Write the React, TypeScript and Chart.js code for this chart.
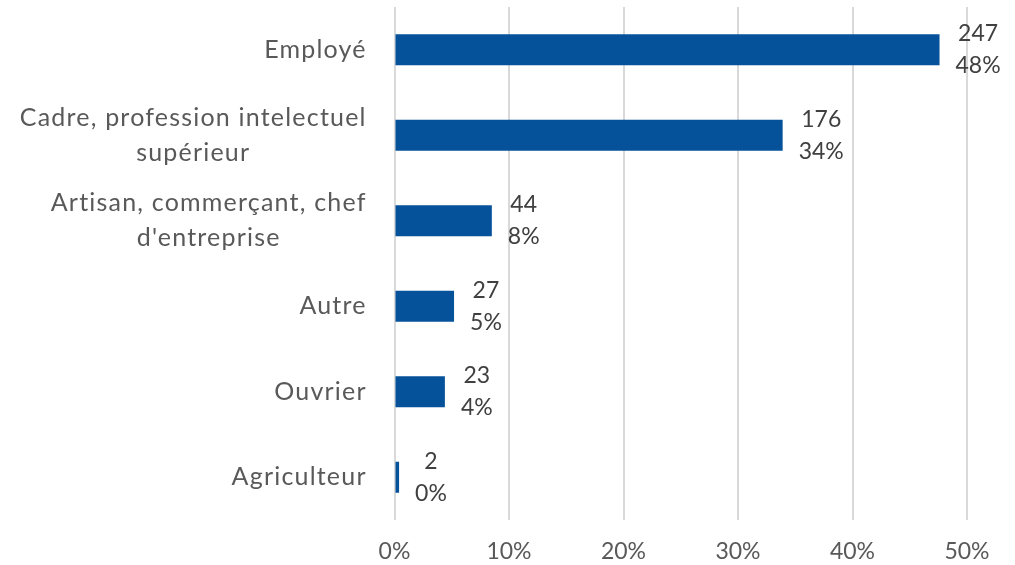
import React, { useEffect, useRef } from "react";
import { Chart, registerables } from "chart.js";

Chart.register(...registerables);

const categories: string[][] = [
  ["Employé"],
  ["Cadre, profession intelectuel", "supérieur"],
  ["Artisan, commerçant, chef", "d'entreprise"],
  ["Autre"],
  ["Ouvrier"],
  ["Agriculteur"],
];
const counts: number[] = [247, 176, 44, 27, 23, 2];
const percents: number[] = [47.6, 33.9, 8.5, 5.2, 4.4, 0.4];
const percentLabels: string[] = ["48%", "34%", "8%", "5%", "4%", "0%"];
const xTickMax = 50;
const xTickStep = 10;

const FONT = "Lato";
const BAR_COLOR = "#05529B";
const TEXT_COLOR = "#595959";
const LABEL_COLOR = "#404040";

const labelsPlugin = {
  id: "customLabels",
  afterDatasetsDraw(chart: any) {
    const ctx = chart.ctx;
    const meta = chart.getDatasetMeta(0);
    const yScale = chart.scales.y;
    ctx.save();
    // category labels
    const spacing = 1.2;
    ctx.font = `25px ${FONT}`;
    (ctx as any).letterSpacing = `${spacing}px`;
    ctx.fillStyle = TEXT_COLOR;
    ctx.textAlign = "left";
    ctx.textBaseline = "middle";
    const rightEdge = chart.chartArea.left - 29;
    const w = (s: string) => ctx.measureText(s).width - spacing;
    categories.forEach((lines, i) => {
      const cy = yScale.getPixelForValue(i);
      const maxW = Math.max(...lines.map(w));
      const cx = rightEdge - maxW / 2;
      const lh = 35;
      const startY = cy - ((lines.length - 1) * lh) / 2;
      lines.forEach((l, j) => ctx.fillText(l, cx - w(l) / 2, startY + j * lh));
    });
    // data labels
    (ctx as any).letterSpacing = "0px";
    ctx.font = `23px ${FONT}`;
    ctx.textAlign = "center";
    ctx.fillStyle = LABEL_COLOR;
    meta.data.forEach((bar: any, i: number) => {
      const lines = [String(counts[i]), percentLabels[i]];
      const maxW = Math.max(...lines.map((l) => ctx.measureText(l).width));
      const cx = bar.x + 16 + maxW / 2;
      const lh = 32;
      const startY = bar.y - lh / 2;
      lines.forEach((l, j) => ctx.fillText(l, cx, startY + j * lh));
    });
    ctx.restore();
  },
};

export default function App() {
  const ref = useRef<HTMLCanvasElement>(null);
  useEffect(() => {
    document.body.style.margin = "0";
    const chart = new Chart(ref.current!, {
      type: "bar",
      data: {
        labels: categories.map((c) => c.join(" ")),
        datasets: [
          {
            data: percents,
            backgroundColor: BAR_COLOR,
            borderWidth: 0,
            categoryPercentage: 1,
            barPercentage: 0.362,
          },
        ],
      },
      options: {
        indexAxis: "y",
        animation: false,
        responsive: true,
        maintainAspectRatio: false,
        layout: { padding: { left: 0, right: 48, top: 7, bottom: 0 } },
        plugins: { legend: { display: false }, tooltip: { enabled: false } },
        scales: {
          x: {
            min: 0,
            max: xTickMax,
            ticks: {
              stepSize: xTickStep,
              callback: (v: any) => `${v}%`,
              font: { family: FONT, size: 23 },
              color: TEXT_COLOR,
              padding: 18,
              maxRotation: 0,
            },
            grid: { color: "#d9d9d9", lineWidth: 2, drawTicks: false },
            border: { display: false },
            afterFit: (s: any) => {
              s.height = 45;
            },
          },
          y: {
            ticks: { display: false },
            grid: { display: false },
            border: { display: false },
            afterFit: (s: any) => {
              s.width = 394.5;
            },
          },
        },
      },
      plugins: [labelsPlugin],
    });
    return () => chart.destroy();
  }, []);
  return (
    <div style={{ position: "absolute", left: 0, top: 0, width: 1015, height: 565 }}>
      <canvas ref={ref} />
    </div>
  );
}
